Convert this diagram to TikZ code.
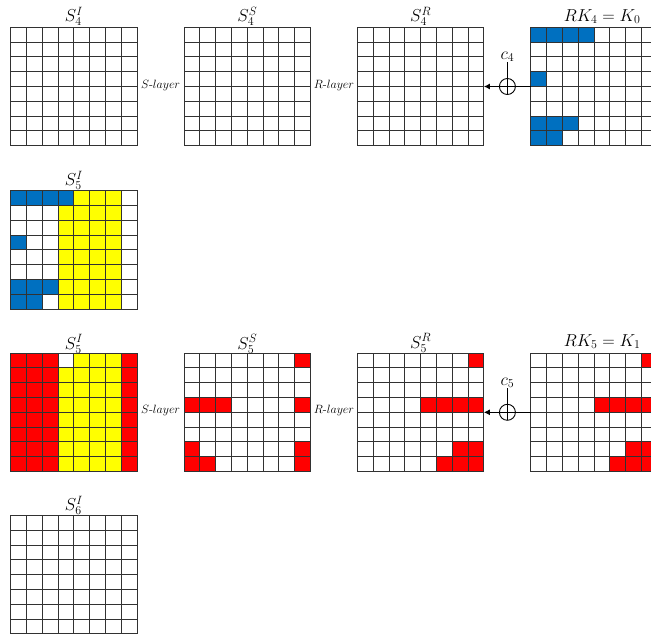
\documentclass[tikz,border=0pt]{standalone}
\usepackage{xcolor}
\usepackage{tikz}
\usepackage{amsmath}
\usetikzlibrary{arrows.meta, positioning, calc}
\definecolor{keyblue}{RGB}{0, 112, 192}
\definecolor{activered}{RGB}{255, 0, 0}
\definecolor{activeyellow}{RGB}{255, 255, 0}
\definecolor{gridgray}{RGB}{50, 50, 50}

\newcommand{\cw}{15.8pt}
\newcommand{\ch}{14.8pt}

\tikzset{
    state/.style={minimum width=126.4pt, minimum height=118.4pt, inner sep=0pt, outer sep=0pt, anchor=north west},
    gridline/.style={draw=gridgray, line width=1pt},
    statelabel/.style={font=\LARGE, inner sep=0pt, anchor=base},
    layerlabel/.style={font=\large, inner sep=0pt},
    xorop/.style={circle, draw, line width=0.9pt, minimum size=16pt, inner sep=0pt,
        path picture={\draw[line width=0.9pt] (path picture bounding box.north) -- (path picture bounding box.south)
            (path picture bounding box.west) -- (path picture bounding box.east);}},
    keyline/.style={line width=0.9pt},
}

% fill blocks of cells: state node, colour, list of col/row/col/row
\newcommand{\paintcells}[3]{%
    \foreach \ca/\ra/\cb/\rb in {#3}
        \fill[#2] ([shift={(\ca*\cw,-\ra*\ch)}]#1.north west) rectangle ([shift={(\cb*\cw+\cw,-\rb*\ch-\ch)}]#1.north west);
}

% 8x8 lines over a state node
\newcommand{\drawgrid}[1]{%
    \foreach \k in {1,...,7} {
        \draw[gridline] ([xshift=\k*\cw]#1.north west) -- ([xshift=\k*\cw]#1.south west);
        \draw[gridline] ([yshift=-\k*\ch]#1.north west) -- ([yshift=-\k*\ch]#1.north east);
    }
    \draw[gridline] (#1.north west) rectangle (#1.south east);
}

\begin{document}
\begin{tikzpicture}[x=1pt, y=1pt]
    \useasboundingbox (0,0) rectangle (651,-637);
    \clip (0,0) rectangle (651,-637);

    % round 4
    \node[state] (s4i) at (10.7,-27.3) {};
    \node[state, right=47pt of s4i] (s4s) {};
    \node[state, right=47pt of s4s] (s4r) {};
    \node[state, right=47pt of s4r] (rk4) {};
    % S5 input with key bits
    \node[state, below=45pt of s4i] (s5ia) {};
    % round 5
    \node[state, below=44pt of s5ia] (s5ib) {};
    \node[state, right=47pt of s5ib] (s5s) {};
    \node[state, right=47pt of s5s] (s5r) {};
    \node[state, right=47pt of s5r] (rk5) {};
    % S6 input
    \node[state, below=44pt of s5ib] (s6i) {};

    \paintcells{rk4}{keyblue}{0/0/3/0, 0/3/0/3, 0/6/2/6, 0/7/1/7}
    \paintcells{s5ia}{activeyellow}{3/0/6/7}
    \paintcells{s5ia}{keyblue}{0/0/3/0, 0/3/0/3, 0/6/2/6, 0/7/1/7}
    \paintcells{s5ib}{activered}{0/0/2/7, 7/0/7/7}
    \paintcells{s5ib}{activeyellow}{4/0/6/0, 3/1/6/7}
    \paintcells{s5s}{activered}{7/0/7/0, 0/3/2/3, 7/3/7/3, 0/6/0/6, 7/6/7/6, 0/7/1/7, 7/7/7/7}
    \paintcells{s5r}{activered}{7/0/7/0, 4/3/7/3, 6/6/7/6, 5/7/7/7}
    \paintcells{rk5}{activered}{7/0/7/0, 4/3/7/3, 6/6/7/6, 5/7/7/7}

    \foreach \g in {s4i, s4s, s4r, rk4, s5ia, s5ib, s5s, s5r, rk5, s6i} {
        \drawgrid{\g}
    }

    % state names
    \node[statelabel] (s4ilbl) at ([yshift=6pt]s4i.north) {$S_4^I$};
    \node[statelabel] (s4slbl) at ([yshift=6pt]s4s.north) {$S_4^S$};
    \node[statelabel] (s4rlbl) at ([yshift=6pt]s4r.north) {$S_4^R$};
    \node[statelabel] (rk4lbl) at ([xshift=8pt, yshift=6pt]rk4.north) {$RK_4=K_0$};
    \node[statelabel] (s5ialbl) at ([yshift=5pt]s5ia.north) {$S_5^I$};
    \node[statelabel] (s5iblbl) at ([yshift=4pt]s5ib.north) {$S_5^I$};
    \node[statelabel] (s5slbl) at ([yshift=4pt]s5s.north) {$S_5^S$};
    \node[statelabel] (s5rlbl) at ([yshift=5pt]s5r.north) {$S_5^R$};
    \node[statelabel] (rk5lbl) at ([xshift=8pt, yshift=7pt]rk5.north) {$RK_5=K_1$};
    \node[statelabel] (s6ilbl) at ([yshift=5pt]s6i.north) {$S_6^I$};

    % layers between states
    \node[layerlabel] (slay4) at ($(s4i.east)!0.5!(s4s.west)+(0,1.5)$) {$S\text{-}layer$};
    \node[layerlabel] (rlay4) at ($(s4s.east)!0.5!(s4r.west)+(0,1.5)$) {$R\text{-}layer$};
    \node[layerlabel] (slay5) at ($(s5ib.east)!0.5!(s5s.west)+(0,1.5)$) {$S\text{-}layer$};
    \node[layerlabel] (rlay5) at ($(s5s.east)!0.5!(s5r.west)+(0,1.5)$) {$R\text{-}layer$};

    % key addition
    \node[xorop] (xor4) at ($(s4r.east)!0.5!(rk4.west)$) {};
    \node[font=\LARGE, inner sep=0pt, above=16pt of xor4] (c4) {$c_4$};
    \draw[keyline] (xor4.north) -- (c4.south);
    \draw[keyline] (rk4.west) -- (xor4.east);
    \draw[keyline, -{Latex[length=6pt, width=6pt]}] (xor4.west) -- (s4r.east);

    \node[xorop] (xor5) at ($(s5r.east)!0.5!(rk5.west)$) {};
    \node[font=\LARGE, inner sep=0pt, above=16pt of xor5] (c5) {$c_5$};
    \draw[keyline] (xor5.north) -- (c5.south);
    \draw[keyline] (rk5.west) -- (xor5.east);
    \draw[keyline, -{Latex[length=6pt, width=6pt]}] (xor5.west) -- (s5r.east);
\end{tikzpicture}
\end{document}
